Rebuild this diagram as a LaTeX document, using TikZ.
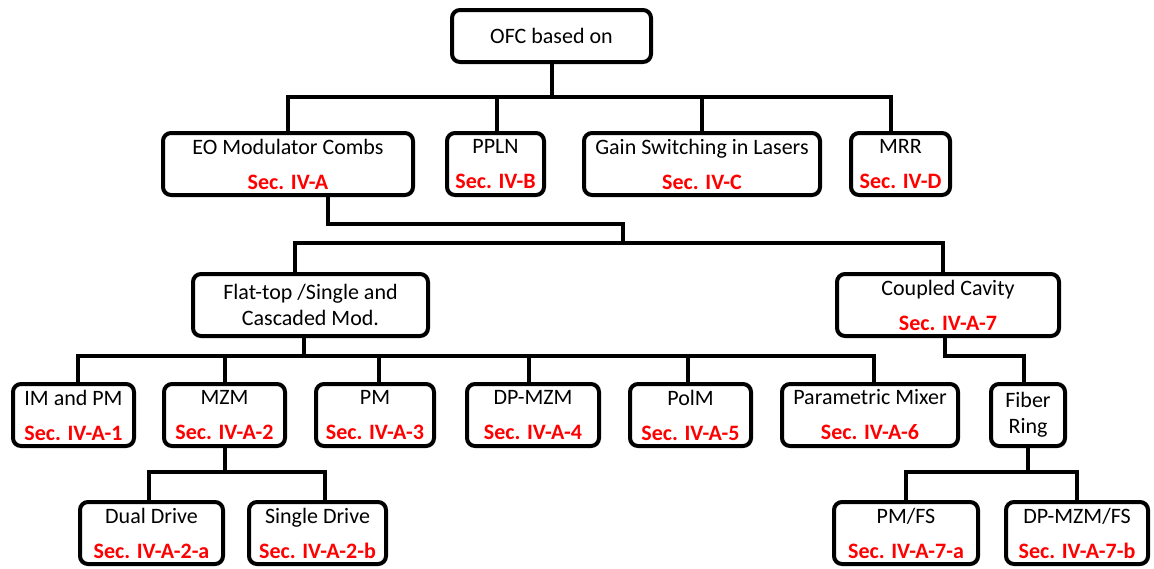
\documentclass[tikz,border=0pt]{standalone}
\usepackage{fontspec}
\setmainfont{Carlito}
\usepackage{xcolor}
\definecolor{secred}{RGB}{255,0,0}
\newcommand\secline[1]{\textcolor{secred}{\bfseries #1}}
\begin{document}
\begin{tikzpicture}[x=0.5pt,y=-0.5pt,
  box/.style={draw, line width=2pt, rounded corners=4pt, align=center, inner sep=0pt,
    font=\fontsize{11}{13}\selectfont, minimum height=31pt},
  conn/.style={line width=2pt}]
\useasboundingbox (0,0) rectangle (1154,568);
% level 1
\node[box, minimum width=99.5pt, minimum height=26pt] (ofc) at (551.5,36) {OFC based on};
% level 2
\node[box, minimum width=125pt] (eo) at (288,164) {EO Modulator Combs\\[4.5pt]\secline{Sec. IV-A}};
\node[box, minimum width=48.5pt] (ppln) at (495.5,164) {PPLN\\[4.5pt]\secline{Sec. IV-B}};
\node[box, minimum width=118pt] (gain) at (702,164) {Gain Switching in Lasers\\[4.5pt]\secline{Sec. IV-C}};
\node[box, minimum width=49.5pt] (mrr) at (900.5,164) {MRR\\[4.5pt]\secline{Sec. IV-D}};
% level 3
\node[box, minimum width=117.5pt] (flat) at (310.5,305) {Flat-top /Single and\\Cascaded Mod.};
\node[box, minimum width=111pt] (cc) at (948,305) {Coupled Cavity\\[4.5pt]\secline{Sec. IV-A-7}};
% level 4
\node[box, minimum width=60.5pt] (im) at (73.5,415) {IM and PM\\[4.5pt]\secline{Sec. IV-A-1}};
\node[box, minimum width=60.5pt] (mzm) at (224.5,415) {MZM\\[4.5pt]\secline{Sec. IV-A-2}};
\node[box, minimum width=59pt] (pm) at (375,415) {PM\\[4.5pt]\secline{Sec. IV-A-3}};
\node[box, minimum width=66pt] (dpmzm) at (533,415) {DP-MZM\\[4.5pt]\secline{Sec. IV-A-4}};
\node[box, minimum width=60.5pt] (polm) at (690.5,415) {PolM\\[4.5pt]\secline{Sec. IV-A-5}};
\node[box, minimum width=88pt] (param) at (870,415) {Parametric Mixer\\[4.5pt]\secline{Sec. IV-A-6}};
\node[box, minimum width=37pt] (fiber) at (1028,415) {Fiber\\Ring};
% level 5
\node[box, minimum width=71.5pt] (dual) at (151.5,533) {Dual Drive\\[4.5pt]\secline{Sec. IV-A-2-a}};
\node[box, minimum width=68.5pt] (single) at (317.5,533) {Single Drive\\[4.5pt]\secline{Sec. IV-A-2-b}};
\node[box, minimum width=72pt] (pmfs) at (906,533) {PM/FS\\[4.5pt]\secline{Sec. IV-A-7-a}};
\node[box, minimum width=71pt] (dpfs) at (1077,533) {DP-MZM/FS\\[4.5pt]\secline{Sec. IV-A-7-b}};
% bus levels and attach points
\coordinate (L1) at (0,97);
\coordinate (L2) at (0,224);
\coordinate (L4) at (0,356);
\coordinate (L5) at (0,472);
\coordinate (j1) at (622.7,243);
\coordinate (mrrT) at ([xshift=-4.75pt]mrr.north);
\coordinate (pplnT) at ([xshift=0.75pt]ppln.north);
\coordinate (eoB) at ([xshift=20pt]eo.south);
\coordinate (flatT) at ([xshift=-7.75pt]flat.north);
\coordinate (ccT) at ([xshift=-2.5pt]cc.north);
\coordinate (flatB) at ([xshift=-3.25pt]flat.south);
\coordinate (ccB) at ([xshift=-1.75pt]cc.south);
\coordinate (imT) at ([xshift=2.25pt]im.north);
\coordinate (pmT) at ([xshift=2pt]pm.north);
\coordinate (dpT) at ([xshift=-2pt]dpmzm.north);
\coordinate (polT) at ([xshift=-1.25pt]polm.north);
\coordinate (parT) at ([xshift=2pt]param.north);
\coordinate (fibT) at ([xshift=-2pt]fiber.north);
\coordinate (dualT) at ([xshift=-1.25pt]dual.north);
\coordinate (singT) at ([xshift=3.75pt]single.north);
% connectors level 1 -> 2
\draw[conn] (ofc.south) |- (L1 -| eo.north) -- (eo.north);
\draw[conn] (ofc.south) |- (L1 -| pplnT) -- (pplnT);
\draw[conn] (ofc.south) |- (L1 -| gain.north) -- (gain.north);
\draw[conn] (ofc.south) |- (L1 -| mrrT) -- (mrrT);
% EO -> level 3
\draw[conn] (eoB) |- (L2 -| j1) -- (j1);
\draw[conn] (j1) -| (flatT);
\draw[conn] (j1) -| (ccT);
% flat-top -> level 4
\draw[conn] (flatB) |- (L4 -| imT) -- (imT);
\draw[conn] (flatB) |- (L4 -| mzm.north) -- (mzm.north);
\draw[conn] (flatB) |- (L4 -| pmT) -- (pmT);
\draw[conn] (flatB) |- (L4 -| dpT) -- (dpT);
\draw[conn] (flatB) |- (L4 -| polT) -- (polT);
\draw[conn] (flatB) |- (L4 -| parT) -- (parT);
% coupled cavity -> fiber ring
\draw[conn] (ccB) |- (L4 -| fibT) -- (fibT);
% MZM -> level 5
\draw[conn] (mzm.south) |- (L5 -| dualT) -- (dualT);
\draw[conn] (mzm.south) |- (L5 -| singT) -- (singT);
% fiber ring -> level 5
\draw[conn] (fiber.south) |- (L5 -| pmfs.north) -- (pmfs.north);
\draw[conn] (fiber.south) |- (L5 -| dpfs.north) -- (dpfs.north);
\end{tikzpicture}
\end{document}
